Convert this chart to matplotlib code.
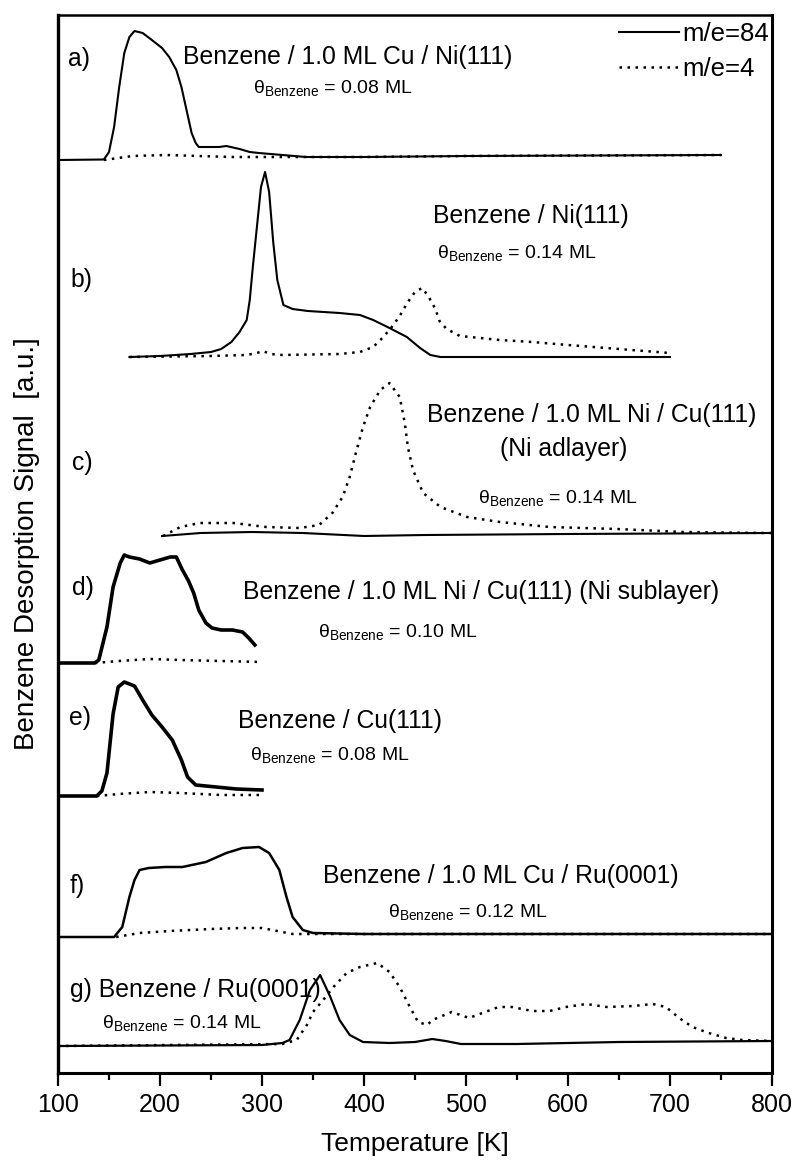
import matplotlib
matplotlib.use("Agg")
import matplotlib.pyplot as plt

plt.rcParams['font.family'] = ['Liberation Sans', 'DejaVu Sans']
plt.rcParams['mathtext.fontset'] = 'custom'
plt.rcParams['mathtext.rm'] = 'Liberation Sans'
plt.rcParams['mathtext.it'] = 'Liberation Sans:italic'

# ---------------- data (temperature in K, signal in a.u.) ----------------
a_T_84 = [100, 145, 150, 155, 160, 165, 170, 175, 183, 192, 202, 209, 216, 221, 226, 231, 235, 238, 248, 258, 265, 278, 288, 297, 320, 343, 400, 500, 750]
a_S_84 = [0, 0.5, 8, 33, 73, 107, 123, 129, 127, 120, 112, 103, 90, 73, 50, 27, 17, 13, 13, 13, 14, 11, 8, 7, 5, 3, 3, 4, 5]
a_T_4 = [145, 173, 206, 238, 271, 304, 340, 400, 500, 750]
a_S_4 = [0, 4, 5, 4, 3, 3, 3, 3, 4, 5]

b_T_84 = [170, 200, 230, 250, 260, 270, 278, 285, 288, 291, 295, 299, 303, 307, 311, 315, 321, 330, 345, 376, 396, 409, 425, 442, 455, 465, 475, 550, 700]
b_S_84 = [0, 1, 3, 5, 8, 15, 25, 37, 57, 90, 130, 170, 185, 165, 115, 77, 52, 48, 46, 44, 42, 37, 29, 20, 9, 2, 0, 0, 0]
b_T_4 = [170, 250, 285, 295, 301, 308, 320, 376, 396, 409, 419, 428, 435, 443, 450, 457, 463, 470, 474, 481, 494, 514, 533, 565, 600, 650, 700]
b_S_4 = [0, 1, 2, 4, 6, 3, 2, 3, 5, 10, 20, 31, 41, 55, 65, 69, 61, 48, 36, 28, 21, 19, 17, 15, 12, 8, 4]

c_T_84 = [202, 240, 290, 340, 400, 460, 600, 800]
c_S_84 = [0, 3, 4, 3, 0, 1, 2, 3]
c_T_4 = [203, 220, 239, 272, 304, 337, 356, 369, 379, 386, 392, 399, 406, 416, 425, 435, 440, 443, 448, 458, 475, 501, 533, 582, 648, 713, 795, 800]
c_S_4 = [0, 9, 13, 13, 9, 8, 11, 23, 39, 59, 83, 109, 129, 146, 153, 139, 113, 89, 66, 43, 29, 19, 14, 9, 7, 4, 3, 3]

d_T_84 = [100, 136, 140, 148, 154, 161, 165, 170, 180, 190, 200, 210, 216, 222, 228, 233, 238, 245, 251, 260, 271, 281, 287, 293]
d_S_84 = [0, 0, 3, 36, 76, 100, 108, 106, 104, 100, 103, 106, 106, 93, 82, 70, 53, 40, 35, 33, 33, 31, 25, 18]
d_T_4 = [136, 160, 190, 220, 260, 300]
d_S_4 = [0, 2, 4, 3, 2, 1]

e_T_84 = [100, 138, 143, 148, 154, 159, 165, 175, 183, 192, 202, 212, 221, 227, 235, 245, 255, 275, 300]
e_S_84 = [0, 0, 5, 23, 82, 109, 114, 110, 96, 81, 69, 56, 36, 19, 11, 10, 9, 7, 6]
e_T_4 = [138, 160, 190, 220, 260, 300]
e_S_4 = [0, 2, 4, 3, 1, 1]

f_T_84 = [100, 155, 163, 170, 175, 180, 189, 205, 222, 245, 265, 281, 297, 307, 317, 324, 330, 340, 350, 400, 500, 600, 700, 800]
f_S_84 = [0, 0, 10, 40, 57, 67, 69, 70, 70, 75, 84, 89, 90, 84, 67, 40, 20, 7, 4, 3, 3, 3, 3, 3]
f_T_4 = [157, 180, 210, 250, 280, 300, 315, 330, 345, 800]
f_S_4 = [0, 4, 6, 8, 9, 9, 6, 3, 3, 3]

g_T_84 = [100, 300, 320, 327, 337, 347, 357, 367, 376, 386, 399, 425, 450, 467, 480, 495, 550, 650, 800]
g_S_84 = [0, 1, 3, 6, 26, 56, 71, 49, 26, 11, 4, 3, 4, 7, 5, 2, 2, 4, 5]
g_T_4 = [100, 320, 334, 344, 350, 360, 370, 383, 396, 413, 425, 435, 445, 453, 462, 467, 486, 503, 516, 532, 545, 565, 582, 598, 618, 638, 664, 683, 696, 709, 722, 738, 755, 771, 800]
g_S_4 = [0, 2, 6, 21, 34, 46, 59, 73, 79, 83, 74, 59, 39, 24, 21, 26, 34, 28, 33, 39, 39, 35, 35, 39, 42, 39, 40, 42, 39, 28, 19, 13, 8, 6, 5]

panel_letters = ['a)', 'b)', 'c)', 'd)', 'e)', 'f)']
panel_titles = ['Benzene / 1.0 ML Cu / Ni(111)', 'Benzene / Ni(111)',
                'Benzene / 1.0 ML Ni / Cu(111)', 'Benzene / 1.0 ML Ni / Cu(111) (Ni sublayer)',
                'Benzene / Cu(111)', 'Benzene / 1.0 ML Cu / Ru(0001)', 'g) Benzene / Ru(0001)']
coverages = ['0.08', '0.14', '0.14', '0.10', '0.08', '0.12', '0.14']
legend_labels = ['m/e=84', 'm/e=4']
x_ticks = [100, 200, 300, 400, 500, 600, 700, 800]

# ---------------- layout ----------------
W, H = 797, 1166
fig = plt.figure(figsize=(W / 100, H / 100), dpi=100)
AX_L, AX_R, AX_T, AX_B = 58, 772, 15, 1073
ax = fig.add_axes([AX_L / W, (H - AX_B) / H, (AX_R - AX_L) / W, (AX_B - AX_T) / H])
ax.set_xlim(100, 800)
ax.set_ylim(0, AX_B - AX_T)

def dx(px):
    return 100 + (px - AX_L) * 700.0 / (AX_R - AX_L)

def dy(py):
    return AX_B - py

offsets = [dy(160), dy(357), dy(536), dy(663), dy(796), dy(937), dy(1046)]

traces = [
    (a_T_84, a_S_84, a_T_4, a_S_4, 1.5),
    (b_T_84, b_S_84, b_T_4, b_S_4, 1.5),
    (c_T_84, c_S_84, c_T_4, c_S_4, 1.5),
    (d_T_84, d_S_84, d_T_4, d_S_4, 2.6),
    (e_T_84, e_S_84, e_T_4, e_S_4, 2.6),
    (f_T_84, f_S_84, f_T_4, f_S_4, 1.8),
    (g_T_84, g_S_84, g_T_4, g_S_4, 1.6),
]

dot_style = (0, (1, 2.2))
handles = []
for i, (t84, s84, t4, s4, lw) in enumerate(traces):
    off = offsets[i]
    l1, = ax.plot(t84, [v + off for v in s84], color='black', lw=lw, solid_joinstyle='round')
    l2, = ax.plot(t4, [v + off for v in s4], color='black', lw=1.8, linestyle=dot_style,
                  dash_capstyle='butt')
    if i == 0:
        handles = [l1, l2]

TS = 17.8
CS = 14

# panel letters
letter_pos = [(68, 66), (70, 287), (72, 470), (72, 595), (69, 725), (70, 893)]
for lab, (px, py) in zip(panel_letters, letter_pos):
    ax.text(dx(px), dy(py), lab, fontsize=TS, ha='left', va='baseline')

title_pos = [(183, 64), (433, 223), (427, 422), (243, 599), (238, 728), (323, 883), (70, 997)]
for lab, (px, py) in zip(panel_titles, title_pos):
    ax.text(dx(px), dy(py), lab, fontsize=TS, ha='left', va='baseline')
ax.text(dx(500), dy(456), '(Ni adlayer)', fontsize=TS, ha='left', va='baseline')

cov_pos = [(253, 93), (437, 258), (478, 503), (318, 637), (250, 760), (388, 917), (102, 1028)]
for cov, (px, py) in zip(coverages, cov_pos):
    ax.text(dx(px), dy(py), 'θ$_{\\mathrm{Benzene}}$ = ' + cov + ' ML', fontsize=CS,
            ha='left', va='baseline')

leg = ax.legend(handles, legend_labels, loc='upper right', bbox_to_anchor=(0.996, 0.993),
                frameon=False, fontsize=18.5, handlelength=2.3, handletextpad=0.15,
                labelspacing=0.4, borderpad=0, borderaxespad=0)

# axes styling
ax.set_xticks(x_ticks)
ax.set_xticks(range(150, 800, 100), minor=True)
ax.set_yticks([])
ax.tick_params(axis='x', which='major', direction='out', length=9.5, width=1.6,
               labelsize=18, pad=5)
ax.tick_params(axis='x', which='minor', direction='out', length=5, width=1.6)
for side, lw in [('left', 2.4), ('right', 2.2), ('top', 1.8), ('bottom', 2.2)]:
    ax.spines[side].set_linewidth(lw)

ax.set_xlabel('Temperature [K]', fontsize=19, labelpad=11)
ax.set_ylabel('Benzene Desorption Signal  [a.u.]', fontsize=20, labelpad=13)

fig.savefig('out.png', dpi=100)
